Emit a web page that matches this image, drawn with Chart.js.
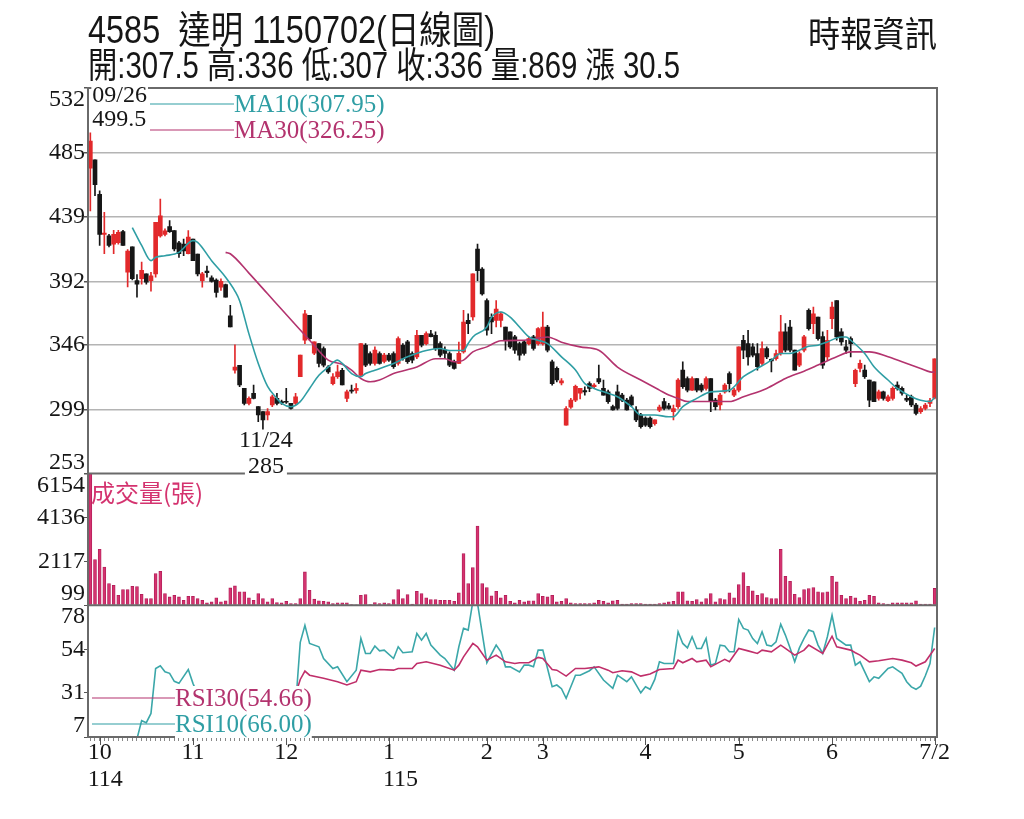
<!DOCTYPE html>
<html>
<head>
<meta charset="utf-8">
<script src="https://cdn.jsdelivr.net/npm/chart.js@4.4.1/dist/chart.umd.min.js"></script>
<style>
html, body { margin: 0; padding: 0; background: #fff; }
#wrap { position: relative; width: 1024px; height: 819px; overflow: hidden; }
#kChart { position: absolute; left: 0; top: 0; }
.hd { position: absolute; white-space: nowrap; line-height: 1; color: #161616; transform-origin: 0 0;
      font-family: "Liberation Sans Narrow", "Liberation Sans", "Noto Sans CJK TC", sans-serif; }
</style>
</head>
<body>
<div id="wrap">
  <canvas id="kChart" width="1024" height="819"></canvas>
  <div class="hd" id="t1" style="left:88px; top:11px; font-size:38px;">4585&nbsp;&nbsp;達明 1150702(日線圖)</div>
  <div class="hd" id="t2" style="left:88px; top:48px; font-size:36px;">開:307.5 高:336 低:307 收:336 量:869 漲 30.5</div>
  <div class="hd" id="t3" style="left:808px; top:17px; font-size:35px;">時報資訊</div>
</div>
<script>
// 日K 開高低收 (114/09/26 ~ 115/07/02)
const opens = [
  474, 480, 455, 426, 425, 419, 420, 428, 398.6, 417,
  392.5, 394, 397.5, 392.6, 397.5, 425, 426, 431.6, 428.7, 420,
  419, 412, 422.7, 411.8, 392.6, 399.4, 394.5, 393, 387.8, 389.7,
  367, 327.8, 331.3, 314.5, 303.7, 310.9, 301.3, 297.7, 295.3, 302.5,
  307.3, 305, 305, 303.7, 303.7, 323, 349.4, 367.4, 340, 347,
  343.4, 330, 318, 323, 327.7, 307.3, 313, 313, 324, 345.8,
  339.8, 332.6, 339.8, 334, 338.6, 339.8, 332.6, 345.8, 348.2, 339.8,
  337.4, 353, 347, 354, 353, 347, 342.2, 339.8, 333.8, 332.6,
  341, 363.8, 366.2, 415.4, 401, 378.2, 366, 363.8, 363.8, 359,
  355.4, 351.8, 347, 348.2, 347, 351.8, 347, 347, 359, 333.8,
  329, 318.5, 288, 301, 306, 311, 313, 318, 315.7, 321.7,
  314.5, 312.1, 301.3, 312, 309.7, 306, 308.5, 299, 295.3, 293,
  293, 289, 298.8, 305, 302, 297.7, 301.3, 327.8, 321.7, 313.3,
  321.7, 317, 314.5, 321.7, 306, 302.5, 312, 325.3, 309.7, 313.3,
  349.4, 347, 344.6, 339.8, 332.6, 343.4, 335.5, 336, 339.8, 355.4,
  359, 342.2, 331.4, 342.2, 371, 361.4, 366.2, 352, 337.4, 365,
  378.2, 355.4, 344.6, 350.6, 318, 329, 327.8, 320.6, 319.3, 307.3,
  312, 305.6, 307.3, 316.9, 314.5, 307.3, 308.5, 302.5, 297.7, 300,
  303.7, 307.5
];
const highs = [
  499.5, 480, 457.5, 442, 426, 429, 429, 429, 415, 417,
  397, 406, 397.5, 398.6, 434.7, 451.5, 430, 436, 428.7, 421,
  422.7, 428.7, 422.7, 411.8, 398.6, 403, 396, 393.8, 393.8, 390,
  374.6, 346, 331.3, 314.5, 308.5, 317, 301.3, 297.7, 300, 309.7,
  311, 306, 314.5, 303.7, 311, 338.6, 371, 367.4, 348.2, 347,
  344.6, 331, 325.3, 331.4, 329, 313.3, 317, 318, 347, 347,
  341, 344.6, 341, 340, 340, 341, 351.8, 347, 349.4, 341,
  356.6, 353, 355.4, 356.6, 355.4, 348.2, 344.6, 341, 335, 348,
  371, 368.6, 397.4, 419, 402, 379.4, 368.6, 378.2, 369.8, 359,
  355.4, 353, 348, 349.4, 351.8, 353, 358.5, 369.8, 360.2, 335,
  330.2, 321.7, 301.3, 307.3, 317, 314.5, 315.7, 319.3, 318, 331.4,
  320.6, 313.3, 302.5, 317, 311, 307.3, 309.7, 301.3, 296.5, 294,
  294, 291.7, 302.5, 307.3, 303.7, 302.5, 321.7, 333.8, 323, 323,
  321.7, 318, 323, 321.7, 307.3, 311, 318, 326.5, 314.5, 344.6,
  353, 356.6, 347, 347, 348.2, 344.6, 336, 342.2, 367.4, 361.4,
  363.8, 342.2, 341, 353, 372.2, 373.4, 366.2, 355.4, 356.6, 377,
  378.2, 357.8, 349.4, 351.8, 328.5, 335, 331.4, 320.6, 319.3, 313.3,
  312.6, 309.7, 315.7, 319.3, 315.7, 309.7, 309.7, 303.7, 301.3, 303.7,
  307.3, 336
];
const lows = [
  443, 454, 418, 412, 417, 412, 419, 418, 388, 393,
  380.6, 390, 390, 385, 395, 424, 425, 427.5, 414, 409.4,
  410.6, 411.8, 407, 396, 387.8, 395, 391.4, 380.6, 385.4, 380.6,
  359, 325.5, 315.7, 302.5, 302.5, 307, 290.5, 285, 291.7, 301.3,
  302.5, 303, 303.7, 299.5, 302.5, 323, 347, 349.4, 339, 330,
  330, 325.3, 317, 321.7, 317, 305, 311, 311, 324, 330.2,
  331.4, 331.4, 332, 333, 334, 329, 331.4, 335, 332.6, 333,
  336, 344.6, 346, 351.8, 342, 337.4, 336, 330.2, 328.5, 332.6,
  340, 354.2, 364, 392.6, 382, 353, 354.2, 359, 359, 342.2,
  343.4, 339.8, 335, 338.6, 346, 342.2, 345.8, 345.8, 341, 316.9,
  319.3, 317, 288, 300, 305, 307, 309.7, 312.1, 314.5, 318,
  309.7, 303.7, 298.8, 299, 305, 298.8, 301.3, 290.5, 285.7, 287,
  285.7, 288, 297.7, 299, 299.5, 291.7, 300, 314.5, 312, 313,
  312, 312, 313.3, 297.7, 299, 299, 311, 312, 308.5, 312,
  336, 331.4, 337.4, 327.7, 331.4, 336, 326.5, 335, 338.6, 341,
  341, 327.8, 330.2, 341, 356.6, 354.2, 349.4, 329, 335, 357.8,
  349.4, 345.8, 339.8, 337.4, 315.7, 326.5, 321.7, 301.3, 305, 306,
  306, 304.9, 306, 313.3, 309.7, 305, 301.3, 295.3, 296.5, 299,
  301.3, 307
];
const closes = [
  493.5, 462, 426, 427, 418, 426, 427.5, 418, 414, 394,
  390, 400, 391.5, 396, 434.7, 439.5, 428.6, 428, 415.5, 412,
  414, 424, 407, 397.4, 397.4, 398.4, 392, 384, 392, 380.6,
  359, 330, 317, 303.7, 307.3, 307.3, 295.3, 291.7, 297.7, 308.5,
  303.7, 304, 304.5, 300, 308.5, 338.6, 368.6, 350.6, 348.2, 332.6,
  331.4, 326.5, 323, 326.5, 317, 312, 312.6, 314.5, 347, 331.4,
  332.6, 342.2, 332.6, 338.6, 335, 330.2, 350.6, 336.2, 333.8, 335,
  353, 345.8, 354.2, 352, 343.4, 338.6, 339.8, 331.4, 329, 340,
  362.6, 361.4, 397.4, 399.8, 383, 356.6, 362.6, 372, 368.6, 349.4,
  344.6, 342.2, 338.6, 339.8, 350.6, 343.4, 357.8, 359, 342.2, 318,
  320.6, 320, 300, 306, 316, 314.5, 312, 314.5, 317, 319.3,
  309.7, 305, 299, 300, 306, 299, 302.5, 291.7, 286.9, 288,
  286.9, 291.7, 301, 300, 300, 300, 320.6, 315.7, 313.3, 321.7,
  313.3, 313.3, 321.7, 305, 301.3, 309.7, 317, 318, 313.3, 344.6,
  342.2, 337.4, 338.6, 330.2, 343.4, 337.4, 334.5, 339.8, 355.4, 342.2,
  342.2, 327.8, 339.8, 351.8, 357.8, 368.6, 350.6, 331.4, 349.4, 373.4,
  351.8, 348.2, 342.2, 347, 327.7, 332.6, 323, 306, 305, 312,
  307.3, 308.5, 314.5, 314.5, 311, 306.1, 302.5, 296.5, 300, 302.5,
  305.5, 336
];
// 成交量(張)
const volumes = [
  6154, 2195, 2668, 1856, 1094, 1016, 558, 820, 820, 970,
  955, 604, 406, 406, 1553, 1658, 635, 480, 558, 480,
  328, 510, 510, 406, 328, 206, 251, 436, 251, 300,
  893, 985, 710, 710, 436, 328, 635, 406, 251, 406,
  221, 206, 282, 175, 175, 406, 1627, 787, 375, 298,
  282, 251, 175, 206, 206, 206, 130, 114, 558, 589,
  130, 221, 175, 206, 175, 359, 820, 406, 589, 145,
  741, 635, 436, 359, 359, 328, 328, 328, 282, 665,
  2470, 1094, 1827, 3737, 1094, 910, 528, 741, 436, 558,
  282, 206, 328, 252, 298, 298, 634, 512, 481, 558,
  252, 280, 405, 206, 175, 175, 175, 175, 206, 328,
  280, 206, 298, 328, 145, 145, 175, 175, 175, 145,
  145, 145, 175, 206, 252, 280, 710, 710, 298, 280,
  360, 252, 405, 634, 252, 405, 360, 665, 435, 1047,
  1598, 971, 756, 558, 634, 450, 405, 405, 2668, 1429,
  1200, 600, 450, 818, 864, 910, 710, 680, 710, 1429,
  1169, 558, 405, 512, 435, 280, 328, 558, 512, 206,
  175, 145, 206, 206, 206, 206, 206, 298, 145, 145,
  145, 869
];
// 均線 (讀圖取樣點: 日序 / 數值)
const ma10Idx = [9, 11, 13, 14, 16, 19, 22, 23, 26, 29, 31, 32, 34, 36, 38, 40, 41, 43, 45, 47,
  49, 51, 53, 54, 56, 58, 59, 61, 65, 68, 72, 75, 77, 80, 81, 82, 85, 86, 88, 90,
  92, 94, 96, 98, 101, 104, 106, 108, 111, 113, 116, 118, 121, 124, 125, 127, 130, 133, 137, 140,
  143, 146, 148, 150, 152, 154, 156, 158, 161, 162, 163, 166, 168, 171, 173, 176, 178, 180, 181];
const ma10Val = [431, 418, 407, 409.5, 410.6, 413, 421.5, 420.3, 407, 395, 385, 378, 354, 332.6, 316, 307.3, 303.7, 301.3, 305, 314.5,
  324, 330, 335, 332.6, 325.3, 323, 325.3, 327.7, 332.6, 337.4, 342, 343.4, 342, 342, 347, 351.8, 359, 366, 369.8, 366.2,
  359, 351.8, 349.4, 347, 337.4, 327.8, 318, 314.5, 311, 308.5, 301.3, 295.3, 295.3, 294, 294, 301.3, 307.3, 312, 313.3, 323,
  329, 335, 339.8, 339.8, 342.2, 345, 345.8, 348.2, 351.8, 351.8, 349.4, 339.8, 330.2, 320.6, 314.5, 308.5, 306, 305, 307.95];
const ma30Idx = [29, 30, 34, 38, 42, 47, 51, 54, 56, 58, 60, 62, 65, 70, 74, 76, 78, 80, 82, 85,
  88, 93, 98, 101, 105, 109, 113, 118, 122, 124, 126, 128, 132, 137, 140, 145, 149, 153, 156, 160,
  163, 167, 171, 174, 178, 180, 181];
const ma30Val = [413, 412, 398, 383, 368, 349.4, 335, 332, 327.8, 321.7, 319.3, 320.6, 325.3, 330, 336, 336, 333.8, 335, 341, 344.6,
  349, 349.4, 351.8, 348, 344.6, 342.2, 330, 320.6, 313.3, 309.7, 307.3, 305, 305, 305, 308.5, 314.5, 321.7, 327, 331.4, 337.4,
  341, 341, 337.4, 333.8, 329, 326.5, 326.25];
// RSI
const rsi10Idx = [10, 11, 12, 13, 14, 15, 16, 17, 18, 19, 21, 22, 23, 25, 27, 29, 31, 33, 35, 37,
  39, 41, 43, 44, 45, 46, 47, 49, 50, 52, 53, 55, 57, 58, 59, 60, 61, 62, 63, 65,
  66, 67, 69, 70, 71, 72, 73, 75, 76, 78, 79, 80, 81, 82, 83, 85, 87, 88, 89, 90,
  92, 93, 94, 95, 96, 97, 98, 99, 100, 101, 102, 104, 105, 107, 108, 110, 112, 113, 115, 116,
  118, 119, 120, 121, 122, 123, 125, 126, 127, 128, 129, 130, 131, 132, 133, 134, 135, 136, 137, 138,
  139, 140, 141, 142, 143, 144, 145, 146, 147, 148, 149, 150, 151, 152, 153, 154, 155, 156, 157, 158,
  159, 160, 162, 163, 164, 165, 167, 168, 169, 171, 172, 173, 174, 175, 176, 177, 178, 179, 180, 181];
const rsi10Val = [6, 15.8, 14.7, 19.7, 43.9, 45.4, 42.1, 41.3, 37, 35.9, 43.4, 35.9, 30, 28, 22, 17, 9, 6, 9, 5,
  17, 16, 14, 24, 58, 67.2, 57.4, 55.6, 49.3, 43.9, 44.8, 36.8, 43, 60.1, 52, 52, 56, 53.4, 53.8, 49.3,
  55.6, 52.4, 52.9, 62.8, 59.2, 62.8, 56.5, 51.1, 49.3, 43, 55.6, 65.5, 64.6, 80, 79, 47, 56.5, 52.9, 44.8, 44.8,
  42.1, 45.7, 45.7, 44.8, 53.8, 53.8, 44, 34.1, 35, 33, 27.8, 40.3, 40.3, 42.7, 44.8, 37.7, 33.2, 40.3, 36.8, 39.4,
  30.8, 34.1, 32.7, 38, 47.5, 46.6, 46.6, 63.7, 57.4, 55, 61, 54.7, 54.7, 60.1, 45.7, 46.6, 56.5, 56, 52.9, 52.9,
  70.3, 65.5, 64.6, 60, 57.4, 63.7, 56.5, 56, 58.3, 67.8, 61.9, 55, 47.5, 55, 60.1, 64.6, 63.7, 56.5, 52, 61,
  72.6, 60.1, 56.5, 56.5, 45.7, 47.5, 36.8, 39.4, 38.6, 43.9, 44.8, 43, 41.3, 36.8, 34, 32.7, 34.4, 40, 46.6, 66];
const rsi30Idx = [30, 33, 36, 39, 42, 44, 45, 46, 47, 50, 53, 55, 57, 58, 60, 62, 65, 66, 69, 70,
  72, 75, 78, 79, 80, 82, 83, 85, 87, 89, 91, 92, 94, 96, 97, 99, 100, 102, 104, 106,
  109, 111, 112, 114, 116, 118, 120, 122, 125, 126, 127, 129, 130, 132, 133, 136, 137, 139, 141, 143,
  144, 146, 148, 149, 151, 153, 154, 157, 159, 160, 163, 164, 165, 167, 169, 172, 174, 176, 177, 179, 181];
const rsi30Val = [28, 25, 22, 27, 27, 30, 38, 42.5, 40.3, 38.6, 36.8, 35, 36.8, 43, 42.1, 43.4, 43, 43.9, 43.9, 46.6,
  47.5, 45.7, 43, 45.7, 50.2, 57.4, 55.6, 48.4, 51.1, 47.5, 46.6, 47, 47, 49.9, 49.3, 43.4, 43, 39.8, 43.9, 43.9,
  44.8, 43, 41.6, 42.7, 42.1, 39.8, 40.9, 43.4, 43.9, 48.4, 47, 49.3, 47.5, 48.4, 44.8, 48.8, 47.5, 54.7, 53.4, 52,
  53.8, 52.9, 56.5, 54.7, 51.1, 53.8, 56.5, 52, 61.3, 55.6, 53.8, 52.4, 51.1, 47.5, 48.1, 49.3, 48.4, 47, 45.2, 47.5, 54.66];

// 軸刻度
const priceTicks = [532, 485, 439, 392, 346, 299, 253];
const volTicks = [6154, 4136, 2117, 99];
const rsiTicks = [78, 54, 31, 7];
const monthIdx = [2, 22, 42, 64, 85, 97, 119, 139, 159, 181];
const monthText = ['10', '11', '12', '1', '2', '3', '4', '5', '6', '7/2'];
const yearIdx = [2, 64];
const yearText = ['114', '115'];

const upColor = '#e2292b';
const downColor = '#161616';
const ma10Color = '#2f9ea4';
const ma30Color = '#b3336e';
const volColor = '#d4336f';
const serif = '"Liberation Serif", "Times New Roman", serif';

const labels = opens.map((o, i) => String(i));
const candleColors = opens.map((o, i) => closes[i] >= o ? upColor : downColor);
const pts = (idx, vals) => idx.map((d, k) => ({ x: labels[d], y: vals[k] }));

// 文字加白底
function boxText(ctx, text, x, y, pad) {
    const w = ctx.measureText(text).width;
    const left = ctx.textAlign === 'center' ? x - w / 2 : x;
    ctx.save();
    ctx.fillStyle = '#fff';
    ctx.fillRect(left - pad, y - 13, w + pad * 2, 26);
    ctx.restore();
    ctx.fillText(text, x, y);
}

// 外框、座標文字、註記、圖例
const panelDecor = {
    id: 'panelDecor',
    afterDatasetsDraw(chart) {
        const { ctx, chartArea: a, scales } = chart;
        const py = scales.y, pv = scales.vol, pr = scales.rsi, px = scales.x;
        ctx.save();

        ctx.strokeStyle = '#6a6a6a';
        ctx.lineWidth = 2;
        ctx.strokeRect(a.left, a.top, a.right - a.left, a.bottom - a.top);
        ctx.beginPath();
        ctx.moveTo(a.left, py.bottom); ctx.lineTo(a.right, py.bottom);
        ctx.moveTo(a.left, pv.bottom); ctx.lineTo(a.right, pv.bottom);
        ctx.stroke();

        // 月份刻度
        ctx.lineWidth = 1;
        ctx.strokeStyle = '#555';
        ctx.beginPath();
        monthIdx.forEach(i => {
            const x = Math.round(px.getPixelForValue(i)) + 0.5;
            ctx.moveTo(x, a.bottom); ctx.lineTo(x, a.bottom + 8);
        });
        ctx.stroke();

        // y 軸文字
        ctx.font = '24px ' + serif;
        ctx.fillStyle = '#161616';
        ctx.textAlign = 'right';
        ctx.textBaseline = 'middle';
        [[py, priceTicks], [pv, volTicks], [pr, rsiTicks]].forEach(([s, ticks]) => {
            ticks.forEach(v => {
                let yy = s.getPixelForValue(v);
                yy = Math.min(Math.max(yy, s.top + 12), s.bottom - 11);
                ctx.fillText(String(v), a.left - 3, yy);
            });
        });

        // x 軸文字
        ctx.textAlign = 'center';
        monthIdx.forEach((i, k) => {
            ctx.fillText(monthText[k], px.getPixelForValue(i), a.bottom + 16);
        });
        ctx.textAlign = 'left';
        yearIdx.forEach((i, k) => {
            const mw = ctx.measureText(monthText[monthIdx.indexOf(i)]).width;
            ctx.fillText(yearText[k], px.getPixelForValue(i) - mw / 2, a.bottom + 43);
        });

        // 最高 / 最低 註記
        ctx.textAlign = 'left';
        const hx = px.getPixelForValue(0) + 2;
        boxText(ctx, '09/26', hx, a.top + 8, 1);
        ctx.fillText('499.5', hx, a.top + 32);
        ctx.textAlign = 'center';
        const lx = px.getPixelForValue(37) + 3;
        ctx.fillText('11/24', lx, py.getPixelForValue(285) + 12);
        boxText(ctx, '285', lx, py.getPixelForValue(285) + 38, 3);

        // 均線圖例
        ctx.font = '25px ' + serif;
        ctx.textAlign = 'left';
        [[ma10Color, 'MA10(307.95)', a.top + 16], [ma30Color, 'MA30(326.25)', a.top + 42]].forEach(([c, t, yy]) => {
            ctx.strokeStyle = c; ctx.lineWidth = 1.2;
            ctx.beginPath(); ctx.moveTo(150, yy); ctx.lineTo(234, yy); ctx.stroke();
            ctx.fillStyle = c;
            ctx.fillText(t, 234, yy + 1);
        });

        // 成交量標題
        ctx.font = '24px "Noto Sans CJK TC", sans-serif';
        ctx.fillStyle = volColor;
        ctx.fillText('成交量(張)', a.left + 3, pv.top + 19);

        // RSI 圖例
        ctx.font = '25px ' + serif;
        [[ma30Color, 'RSI30(54.66)', pr.bottom - 39], [ma10Color, 'RSI10(66.00)', pr.bottom - 13]].forEach(([c, t, yy]) => {
            ctx.strokeStyle = c; ctx.lineWidth = 1.2;
            ctx.beginPath(); ctx.moveTo(a.left + 4, yy); ctx.lineTo(175, yy); ctx.stroke();
            ctx.fillStyle = c;
            boxText(ctx, t, 175, yy + 1, 0);
        });

        ctx.restore();
    }
};

const chart = new Chart(document.getElementById('kChart').getContext('2d'), {
    type: 'bar',
    data: {
        labels: labels,
        datasets: [
            { type: 'line', label: 'MA10', data: pts(ma10Idx, ma10Val), yAxisID: 'y', borderColor: ma10Color,
              borderWidth: 1.6, pointRadius: 0, cubicInterpolationMode: 'monotone', order: 0 },
            { type: 'line', label: 'MA30', data: pts(ma30Idx, ma30Val), yAxisID: 'y', borderColor: ma30Color,
              borderWidth: 1.6, pointRadius: 0, cubicInterpolationMode: 'monotone', order: 0 },
            { type: 'bar', label: 'body', data: opens.map((o, i) => [o, closes[i]]), yAxisID: 'y',
              backgroundColor: candleColors, barThickness: 4, minBarLength: 1, grouped: false, order: 1 },
            { type: 'bar', label: 'wick', data: lows.map((l, i) => [l, highs[i]]), yAxisID: 'y',
              backgroundColor: candleColors, barThickness: 1, grouped: false, order: 2 },
            { type: 'bar', label: '成交量', data: volumes, yAxisID: 'vol', base: 99,
              backgroundColor: volColor, borderColor: '#b01d57', borderWidth: 0.8, barThickness: 3, grouped: false, order: 3 },
            { type: 'line', label: 'RSI30', data: pts(rsi30Idx, rsi30Val), yAxisID: 'rsi', borderColor: '#c02f6a',
              borderWidth: 1.6, pointRadius: 0, tension: 0, order: 0 },
            { type: 'line', label: 'RSI10', data: pts(rsi10Idx, rsi10Val), yAxisID: 'rsi', borderColor: '#3ba7a9',
              borderWidth: 1.6, pointRadius: 0, tension: 0, order: 0 }
        ]
    },
    options: {
        responsive: false,
        animation: false,
        devicePixelRatio: 1,
        layout: { padding: { left: 0, top: 88, right: 87, bottom: 0 } },
        plugins: { legend: { display: false }, tooltip: { enabled: false } },
        scales: {
            x: {
                type: 'category', offset: true,
                grid: { drawOnChartArea: false, offset: false, tickLength: 4, tickColor: '#888' },
                ticks: { display: false },
                border: { display: false },
                afterFit: s => { s.height = 82; }
            },
            // 堆疊座標: 後定義者在上
            rsi: {
                position: 'left', stack: 'panel', stackWeight: 132, min: 7, max: 78,
                afterBuildTicks: s => { s.ticks = rsiTicks.map(v => ({ value: v })); },
                grid: { drawOnChartArea: false, tickLength: 4, tickColor: '#555' },
                ticks: { display: false },
                border: { display: false },
                afterFit: s => { s.width = 88; }
            },
            vol: {
                position: 'left', stack: 'panel', stackWeight: 132, min: 99, max: 6154,
                afterBuildTicks: s => { s.ticks = volTicks.map(v => ({ value: v })); },
                grid: { drawOnChartArea: false, tickLength: 4, tickColor: '#555' },
                ticks: { display: false },
                border: { display: false },
                afterFit: s => { s.width = 88; }
            },
            y: {
                position: 'left', stack: 'panel', stackWeight: 386, min: 253, max: 532,
                afterBuildTicks: s => { s.ticks = priceTicks.map(v => ({ value: v })); },
                grid: {
                    color: c => (c.tick && (c.tick.value === 532 || c.tick.value === 253)) ? 'rgba(0,0,0,0)' : '#b4b4b4',
                    lineWidth: 1.5, tickLength: 4, tickColor: '#555'
                },
                ticks: { display: false },
                border: { display: false },
                afterFit: s => { s.width = 88; }
            }
        }
    },
    plugins: [panelDecor]
});

// 標題寬度對齊原圖
function fitText(id, targetWidth) {
    const el = document.getElementById(id);
    const w = el.getBoundingClientRect().width;
    el.style.transform = 'scaleX(' + (targetWidth / w).toFixed(3) + ')';
}
fitText('t1', 407);
fitText('t2', 592);
fitText('t3', 129);
</script>
</body>
</html>
